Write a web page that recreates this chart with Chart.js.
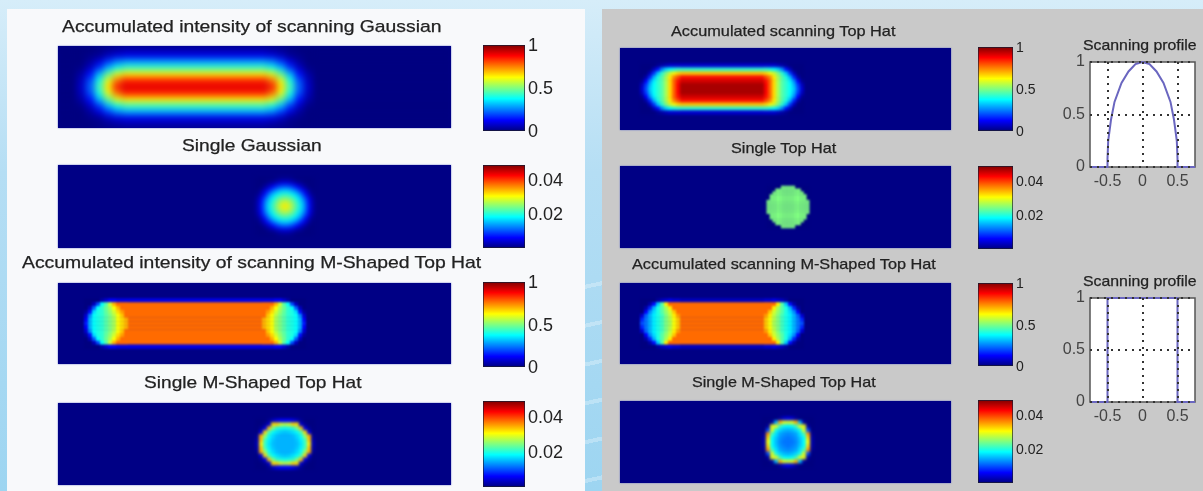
<!DOCTYPE html>
<html>
<head>
<meta charset="utf-8">
<title>Scanning profiles</title>
<script src="https://cdn.jsdelivr.net/npm/chart.js@4/dist/chart.umd.min.js"></script>
<style>
html, body { margin: 0; padding: 0; }
body { width: 1203px; height: 491px; overflow: hidden; position: relative; font-family: "Liberation Sans", Arial, sans-serif;
       background: linear-gradient(180deg, #d6edf9 0%, #b5def4 35%, #9dd5f1 100%); }
.sheet { position: absolute; top: 9px; height: 482px; }
.streaks { position: absolute; left: 585px; width: 17px; top: 250px; height: 241px;
           background: repeating-linear-gradient(168deg, transparent 0 34px, rgba(255,255,255,.28) 34px 38px); }
.heat { position: absolute; overflow: hidden; background: #000085; box-shadow: 0 0 1.5px #5a68c8; }
.title { position: absolute; white-space: nowrap; color: #222; transform-origin: left center; filter: blur(0.35px); -webkit-text-stroke: 0.25px #222; }
canvas { position: absolute; display: block; }
</style>
</head>
<body>
<div class="sheet" style="left:7px;width:578px;background:#f8f9fb"></div>
<div class="sheet" style="left:602px;width:601px;background:#c9c9c9"></div>
<div class="streaks"></div>
<script>
// intensity in percent of the colour range, rows top to bottom, cols given by the *Edges arrays
var gaussAccEdges = [0,18.5,27.5,36.5,45.5,54.5,63.5,209.5,218.5,227.5,236.5,245.5,254.5,393];
var gaussAccRows = [
  [0,0,0,1,2,3,4,3,2,1,0,0,0],
  [0,0,1,2,6,9,10,9,6,2,1,0,0],
  [0,0,3,9,18,25,28,25,18,9,3,0,0],
  [0,1,7,18,31,40,44,40,31,18,7,1,0],
  [0,4,14,31,48,60,65,60,48,31,14,4,0],
  [0,6,20,40,60,76,84,76,60,40,20,6,0],
  [0,7,22,44,65,84,90,84,65,44,22,7,0],
  [0,6,20,40,60,76,84,76,60,40,20,6,0],
  [0,4,14,31,48,60,65,60,48,31,14,4,0],
  [0,1,7,18,31,40,44,40,31,18,7,1,0],
  [0,0,3,9,18,25,28,25,18,9,3,0,0],
  [0,0,1,2,6,9,10,9,6,2,1,0,0],
  [0,0,0,1,2,3,4,3,2,1,0,0,0]
];

var gaussOneEdges = [197,201,205,209,213,217,221,225,229,233,237,241,245,249,253,257];
var gaussOneRows = [
  [],[],[],
  [0,0,0,0,0,1,2,2,2,1,0,0,0,0,0],
  [0,0,0,2,3,6,8,9,8,6,3,2,0,0,0],
  [0,0,3,7,12,17,20,21,20,17,12,7,3,0,0],
  [0,3,9,15,23,28,32,33,32,28,23,15,9,3,0],
  [1,6,14,25,32,37,41,42,41,37,32,25,14,6,1],
  [3,11,21,31,38,45,49,51,49,45,38,31,21,11,3],
  [4,13,25,35,42,50,56,59,56,50,42,35,25,13,4],
  [4,14,26,36,44,52,60,64,60,52,44,36,26,14,4],
  [4,13,25,35,42,50,56,59,56,50,42,35,25,13,4],
  [3,11,21,31,38,45,49,51,49,45,38,31,21,11,3],
  [1,6,14,25,32,37,41,42,41,37,32,25,14,6,1],
  [0,3,9,15,23,28,32,33,32,28,23,15,9,3,0],
  [0,0,3,7,12,17,20,21,20,17,12,7,3,0,0],
  [0,0,0,2,3,6,8,9,8,6,3,2,0,0,0],
  [0,0,0,0,0,1,2,2,2,1,0,0,0,0,0],
  [],[],[]
];

var mAccEdges = [26,30,34,38,42,46,50,54,58,62,66,70,204,208,212,216,220,224,228,232,236,240,244,248];
var mAccRows = [
  [],[],[],[],
  [0,0,0,0,4,8,12,12,10,10,10,10,10,10,10,12,12,8,4,0,0,0,0],
  [0,0,6,20,38,46,58,70,77,77,77,77,77,77,77,70,58,46,38,20,6,0,0],
  [0,6,22,38,42,48,54,62,70,77,77,77,77,77,70,62,54,48,42,38,22,6,0],
  [3,14,34,40,42,47,52,58,66,72,77,77,77,72,66,58,52,47,42,40,34,14,3],
  [8,26,38,40,42,46,50,55,62,68,77,77,77,68,62,55,50,46,42,40,38,26,8],
  [12,30,38,40,42,46,50,54,62,66,70,77,70,66,62,54,50,46,42,40,38,30,12],
  [15,30,38,40,42,46,50,54,62,66,70,77,70,66,62,54,50,46,42,40,38,30,15],
  [12,30,38,40,42,46,50,54,62,66,70,77,70,66,62,54,50,46,42,40,38,30,12],
  [8,26,38,40,42,46,50,55,62,68,77,77,77,68,62,55,50,46,42,40,38,26,8],
  [3,14,34,40,42,47,52,58,66,72,77,77,77,72,66,58,52,47,42,40,34,14,3],
  [0,6,22,38,42,48,54,62,70,77,77,77,77,77,70,62,54,48,42,38,22,6,0],
  [0,0,6,20,38,46,58,70,77,77,77,77,77,77,77,70,58,46,38,20,6,0,0],
  [0,0,0,0,4,8,12,12,10,10,10,10,10,10,10,12,12,8,4,0,0,0,0],
  [],[],[],[]
];

var mOneEdges = [197,201,205,209,213,217,221,225,229,233,237,241,245,249,253,257];
var mOneRows = [
  [],[],[],[],
  [0,0,0,2,6,10,12,12,12,10,6,2,0,0,0],
  [0,0,2,8,66,66,58,56,58,66,66,8,2,0,0],
  [0,2,10,68,50,42,40,39,40,42,50,68,10,2,0],
  [0,10,66,45,38,35,33,32,33,35,38,45,66,10,0],
  [2,70,52,39,34,31,30,30,30,31,34,39,52,70,2],
  [4,68,44,36,32,30,30,30,30,30,32,36,44,68,4],
  [5,64,43,35,31,30,30,30,30,30,31,35,43,64,5],
  [4,68,44,36,32,30,30,30,30,30,32,36,44,68,4],
  [2,70,52,39,34,31,30,30,30,31,34,39,52,70,2],
  [0,10,66,45,38,35,33,32,33,35,38,45,66,10,0],
  [0,2,10,68,50,42,40,39,40,42,50,68,10,2,0],
  [0,0,2,8,66,66,58,56,58,66,66,8,2,0,0],
  [0,0,0,2,6,10,12,12,12,10,6,2,0,0,0],
  [],[],[],[]
];

var hatAccEdges = [20,24,28,32,36,40,44,48,52,56,60,144,148,152,156,160,164,168,172,176,180,184];
var hatAccRows = [
  [],[],[],[],
  [0,0,0,0,2,4,6,8,8,8,8,8,8,8,6,4,2,0,0,0,0],
  [0,0,0,6,14,26,34,38,40,42,42,42,40,38,34,26,14,6,0,0,0],
  [0,0,6,18,32,42,50,58,62,66,68,66,62,58,50,42,32,18,6,0,0],
  [0,4,16,30,40,46,54,64,74,80,86,80,74,64,54,46,40,30,16,4,0],
  [2,12,26,36,42,46,54,66,78,86,92,86,78,66,54,46,42,36,26,12,2],
  [6,18,30,38,42,46,54,66,78,88,96,88,78,66,54,46,42,38,30,18,6],
  [8,20,32,38,42,46,54,66,78,88,96,88,78,66,54,46,42,38,32,20,8],
  [6,18,30,38,42,46,54,66,78,88,96,88,78,66,54,46,42,38,30,18,6],
  [2,12,26,36,42,46,54,66,78,86,92,86,78,66,54,46,42,36,26,12,2],
  [0,4,16,30,40,46,54,64,74,80,86,80,74,64,54,46,40,30,16,4,0],
  [0,0,6,18,32,42,50,58,62,66,68,66,62,58,50,42,32,18,6,0,0],
  [0,0,0,6,14,26,34,38,40,42,42,42,40,38,34,26,14,6,0,0,0],
  [0,0,0,0,2,4,6,8,8,8,8,8,8,8,6,4,2,0,0,0,0],
  [],[],[],[]
];

var hatOneEdges = [146.6,149.5,152.3,155.2,158,160.9,163.7,166.6,169.4,172.3,175.1,178,180.8,183.7,186.5,189.4];
var hatOneRows = [
  [],[],[],[],[],[],[],
  [0,0,0,0,0,50,50,50,50,50,0,0,0,0,0],
  [0,0,0,50,50,50,50,50,50,50,50,50,0,0,0],
  [0,0,50,50,50,50,50,50,50,50,50,50,50,0,0],
  [0,50,50,50,50,50,50,50,50,50,50,50,50,50,0],
  [0,50,50,50,50,50,50,50,50,50,50,50,50,50,0],
  [50,50,50,50,50,50,50,50,50,50,50,50,50,50,50],
  [50,50,50,50,50,50,50,50,50,50,50,50,50,50,50],
  [50,50,50,50,50,50,50,50,50,50,50,50,50,50,50],
  [50,50,50,50,50,50,50,50,50,50,50,50,50,50,50],
  [50,50,50,50,50,50,50,50,50,50,50,50,50,50,50],
  [0,50,50,50,50,50,50,50,50,50,50,50,50,50,0],
  [0,50,50,50,50,50,50,50,50,50,50,50,50,50,0],
  [0,0,50,50,50,50,50,50,50,50,50,50,50,0,0],
  [0,0,0,50,50,50,50,50,50,50,50,50,0,0,0],
  [0,0,0,0,0,50,50,50,50,50,0,0,0,0,0],
  [],[],[],[],[],[],[]
];

var mAcc2Edges = [20,24,28,32,36,40,44,48,52,56,60,144,148,152,156,160,164,168,172,176,180,184];
var mAcc2Rows = [
  [],[],[],[],
  [0,0,0,0,3,6,8,10,8,8,6,8,8,10,8,6,3,0,0,0,0],
  [0,0,4,14,32,46,64,77,77,77,77,77,77,77,64,46,32,14,4,0,0],
  [0,4,16,30,40,46,54,64,77,77,77,77,77,64,54,46,40,30,16,4,0],
  [0,12,26,34,40,46,52,58,68,77,77,77,68,58,52,46,40,34,26,12,0],
  [8,22,30,36,40,44,50,56,64,72,77,72,64,56,50,44,40,36,30,22,8],
  [16,24,30,36,40,44,50,55,62,68,77,68,62,55,50,44,40,36,30,24,16],
  [20,24,30,36,40,44,50,54,62,68,77,68,62,54,50,44,40,36,30,24,20],
  [16,24,30,36,40,44,50,55,62,68,77,68,62,55,50,44,40,36,30,24,16],
  [8,22,30,36,40,44,50,56,64,72,77,72,64,56,50,44,40,36,30,22,8],
  [0,12,26,34,40,46,52,58,68,77,77,77,68,58,52,46,40,34,26,12,0],
  [0,4,16,30,40,46,54,64,77,77,77,77,77,64,54,46,40,30,16,4,0],
  [0,0,4,14,32,46,64,77,77,77,77,77,77,77,64,46,32,14,4,0,0],
  [0,0,0,0,3,6,8,10,8,8,6,8,8,10,8,6,3,0,0,0,0],
  [],[],[],[]
];

var mOne2Edges = [142,146,150,154,158,162,166,170,174,178,182,186,190,194];
var mOne2Rows = [
  [],[],[],[],
  [0,0,0,0,3,8,10,8,3,0,0,0,0],
  [0,0,3,30,70,60,58,60,70,30,3,0,0],
  [0,3,60,60,44,38,37,38,44,60,60,3,0],
  [0,20,60,40,34,31,30,31,34,40,60,20,0],
  [2,72,44,35,29,27,26,27,29,35,44,72,2],
  [4,66,38,32,27,25,24,25,27,32,38,66,4],
  [4,62,38,31,26,24,24,24,26,31,38,62,4],
  [4,66,38,32,27,25,24,25,27,32,38,66,4],
  [2,72,44,35,29,27,26,27,29,35,44,72,2],
  [0,20,60,40,34,31,30,31,34,40,60,20,0],
  [0,3,60,60,44,38,37,38,44,60,60,3,0],
  [0,0,3,30,70,60,58,60,70,30,3,0,0],
  [0,0,0,0,3,8,10,8,3,0,0,0,0],
  [],[],[],[]
];

var cbarFull = [0, 1];
var cbarFullTicks = [0, 0.5, 1];
var cbarSingle = [0, 0.0488];
var cbarSingleTicks = [0.02, 0.04];

var profileTicksX = [-0.5, 0, 0.5];
var profileTicksY = [0, 0.5, 1];
var gaussProfileX = [-0.75,-0.5,-0.5,-0.49,-0.47,-0.45,-0.4,-0.3,-0.2,-0.1,0,0.1,0.2,0.3,0.4,0.45,0.47,0.49,0.5,0.5,0.75];
var gaussProfileY = [0,0,0.08,0.25,0.35,0.45,0.62,0.8,0.91,0.98,1,0.98,0.91,0.8,0.62,0.45,0.35,0.25,0.08,0,0];
var hatProfileX = [-0.75,-0.5,-0.5,0.5,0.5,0.75];
var hatProfileY = [0,0,1,1,0,0];

// MATLAB jet, t 0..1
function jet(t) {
    function c(v) { return Math.round(255 * Math.max(0, Math.min(1, v))); }
    return 'rgb(' + c(1.5 - Math.abs(4 * t - 3)) + ',' + c(1.5 - Math.abs(4 * t - 2)) + ',' + c(1.5 - Math.abs(4 * t - 1)) + ')';
}

function place(el, x, y, w, h) {
    el.style.left = x + 'px';
    el.style.top = y + 'px';
    el.width = w;
    el.height = h;
}

/* ======= heat panels: one floating bar per cell ======= */
function heatPanel(x, y, w, h, edges, rows, blur) {
    var box = document.createElement('div');
    box.className = 'heat';
    box.style.cssText = 'left:' + x + 'px;top:' + y + 'px;width:' + w + 'px;height:' + h + 'px';
    var cv = document.createElement('canvas');
    cv.style.filter = 'blur(' + blur + 'px)';
    box.appendChild(cv);
    document.body.appendChild(box);
    place(cv, 0, 0, w, h);

    var datasets = [];
    for (var i = 0; i < edges.length - 1; i++) {
        (function (i) {
            datasets.push({
                data: rows.map(function (r) { return r[i] === undefined ? null : [edges[i], edges[i + 1]]; }),
                backgroundColor: rows.map(function (r) { return r[i] === undefined ? 'transparent' : jet(r[i] / 100); }),
                borderWidth: 0,
                grouped: false,
                barPercentage: 1.06,
                categoryPercentage: 1
            });
        })(i);
    }
    new Chart(cv, {
        type: 'bar',
        data: { labels: rows.map(function (r, k) { return k; }), datasets: datasets },
        options: {
            indexAxis: 'y',
            responsive: false,
            animation: false,
            events: [],
            layout: { padding: 0 },
            plugins: { legend: { display: false }, tooltip: { enabled: false } },
            scales: {
                x: { type: 'linear', display: false, min: 0, max: w },
                y: { type: 'category', display: false }
            }
        }
    });
}

/* ======= colour bars ======= */
function colourBar(x, y, w, h, limits, ticks, fontSize) {
    var pad = 10, labelW = 50;
    var cv = document.createElement('canvas');
    document.body.appendChild(cv);
    place(cv, x, y - pad, w + labelW, h + 2 * pad);
    new Chart(cv, {
        type: 'bar',
        data: {
            labels: [''],
            datasets: [{
                data: [limits],
                barPercentage: 1,
                categoryPercentage: 1,
                borderWidth: 1,
                borderSkipped: false,
                borderColor: '#1a1a30',
                backgroundColor: function (ctx) {
                    var a = ctx.chart.chartArea;
                    if (!a) return 'blue';
                    var g = ctx.chart.ctx.createLinearGradient(0, a.bottom, 0, a.top);
                    for (var s = 0; s <= 32; s++) g.addColorStop(s / 32, jet(s / 32));
                    return g;
                }
            }]
        },
        options: {
            responsive: false,
            animation: false,
            events: [],
            layout: { padding: { top: pad, bottom: pad } },
            plugins: { legend: { display: false }, tooltip: { enabled: false } },
            scales: {
                x: { display: false },
                y: {
                    position: 'right',
                    min: limits[0],
                    max: limits[1],
                    grid: { display: false, drawTicks: false },
                    border: { display: false },
                    afterBuildTicks: function (s) { s.ticks = ticks.map(function (v) { return { value: v }; }); },
                    afterFit: function (s) { s.width = labelW; s.paddingTop = 0; s.paddingBottom = 0; },
                    ticks: {
                        autoSkip: false,
                        padding: 3,
                        labelOffset: 1.5,
                        color: '#222',
                        font: { family: 'Liberation Sans', size: fontSize },
                        callback: function (v) { return String(v); }
                    }
                }
            }
        }
    });
}

/* ======= small profile plots ======= */
var profileFrame = {
    id: 'profileFrame',
    beforeDraw: function (chart) {
        var a = chart.chartArea;
        chart.ctx.fillStyle = '#fff';
        chart.ctx.fillRect(a.left, a.top, a.right - a.left, a.bottom - a.top);
    },
    beforeDatasetsDraw: function (chart) {
        var a = chart.chartArea;
        chart.ctx.strokeStyle = '#555';
        chart.ctx.lineWidth = 1.5;
        chart.ctx.strokeRect(a.left, a.top, a.right - a.left, a.bottom - a.top);
    }
};

function profilePlot(x, y, w, h, xs, ys) {
    var axisW = 40, axisH = 33, padTop = 8, padRight = 8;
    var cv = document.createElement('canvas');
    document.body.appendChild(cv);
    place(cv, x - axisW, y - padTop, w + axisW + padRight, h + padTop + axisH);
    var dotted = { color: '#333', lineWidth: 2, drawTicks: false, z: 1 };
    var axisLine = { display: false, dash: [2, 5], z: 2 };
    var tickFont = { family: 'Liberation Sans', size: 16 };
    new Chart(cv, {
        type: 'scatter',
        data: {
            datasets: [{
                data: xs.map(function (v, i) { return { x: v, y: ys[i] }; }),
                showLine: true,
                borderColor: '#6a66c0',
                borderWidth: 2,
                pointRadius: 0,
                clip: false
            }]
        },
        options: {
            responsive: false,
            animation: false,
            events: [],
            layout: { padding: { top: padTop, right: padRight } },
            plugins: { legend: { display: false }, tooltip: { enabled: false } },
            scales: {
                x: {
                    min: -0.75,
                    max: 0.75,
                    grid: dotted,
                    border: axisLine,
                    afterBuildTicks: function (s) { s.ticks = profileTicksX.map(function (v) { return { value: v }; }); },
                    afterFit: function (s) { s.height = axisH; s.paddingLeft = 0; s.paddingRight = 0; },
                    ticks: { autoSkip: false, maxRotation: 0, padding: 5, color: '#444', font: tickFont, callback: function (v) { return String(v); } }
                },
                y: {
                    min: 0,
                    max: 1,
                    grid: dotted,
                    border: axisLine,
                    afterBuildTicks: function (s) { s.ticks = profileTicksY.map(function (v) { return { value: v }; }); },
                    afterFit: function (s) { s.width = axisW; s.paddingTop = 0; s.paddingBottom = 0; },
                    ticks: { autoSkip: false, padding: 5, color: '#444', font: tickFont, callback: function (v) { return String(v); } }
                }
            }
        },
        plugins: [profileFrame]
    });
}

/* ======= titles, stretched to the width they have in the picture ======= */
function title(text, x0, x1, yMid, size) {
    var t = document.createElement('div');
    t.className = 'title';
    t.textContent = text;
    t.style.fontSize = size + 'px';
    document.body.appendChild(t);
    t.style.left = x0 + 'px';
    t.style.top = (yMid - t.offsetHeight / 2) + 'px';
    t.style.transform = 'scaleX(' + ((x1 - x0) / t.offsetWidth) + ')';
}

heatPanel(58, 46, 393, 82, gaussAccEdges, gaussAccRows, 3);
heatPanel(58, 165, 393, 83, gaussOneEdges, gaussOneRows, 2);
heatPanel(58, 283, 393, 81, mAccEdges, mAccRows, 1.2);
heatPanel(58, 403, 393, 82, mOneEdges, mOneRows, 1.7);
heatPanel(620, 48, 331, 82, hatAccEdges, hatAccRows, 1.6);
heatPanel(620, 166, 331, 82, hatOneEdges, hatOneRows, 0.8);
heatPanel(620, 283, 331, 81, mAcc2Edges, mAcc2Rows, 1.2);
heatPanel(620, 401, 331, 82, mOne2Edges, mOne2Rows, 1.7);

colourBar(483, 45, 42, 86, cbarFull, cbarFullTicks, 18);
colourBar(483, 165, 42, 83, cbarSingle, cbarSingleTicks, 18);
colourBar(483, 282, 42, 85, cbarFull, cbarFullTicks, 18);
colourBar(483, 401, 42, 86, cbarSingle, cbarSingleTicks, 18);
colourBar(978, 47, 35, 84, cbarFull, cbarFullTicks, 14);
colourBar(978, 166, 35, 83, cbarSingle, cbarSingleTicks, 14);
colourBar(978, 283, 35, 83, cbarFull, cbarFullTicks, 14);
colourBar(978, 400, 35, 83, cbarSingle, cbarSingleTicks, 14);

profilePlot(1090, 62, 105, 105, gaussProfileX, gaussProfileY);
profilePlot(1090, 298, 105, 104, hatProfileX, hatProfileY);

title('Accumulated intensity of scanning Gaussian', 62, 442, 27, 17);
title('Single Gaussian', 182, 322, 146, 17);
title('Accumulated intensity of scanning M-Shaped Top Hat', 22, 481, 263, 17);
title('Single M-Shaped Top Hat', 144, 361, 383, 17);
title('Accumulated scanning Top Hat', 671, 896, 30, 15);
title('Single Top Hat', 731, 836, 147, 15);
title('Accumulated scanning M-Shaped Top Hat', 632, 936, 263, 15);
title('Single M-Shaped Top Hat', 692, 876, 381, 15);
title('Scanning profile', 1083, 1197, 44, 15);
title('Scanning profile', 1083, 1197, 280, 15);
</script>
</body>
</html>
